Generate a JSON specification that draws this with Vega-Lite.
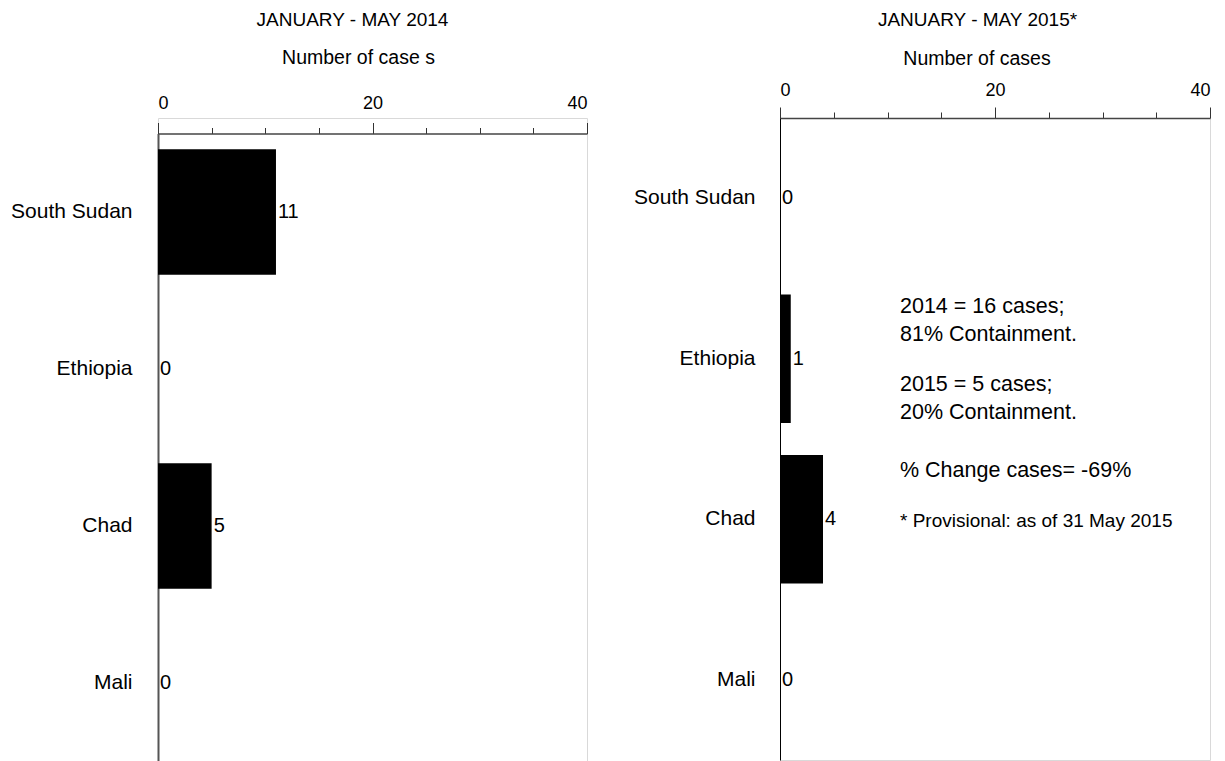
{
  "$schema": "https://vega.github.io/schema/vega-lite/v6.json",
  "datasets": {
    "y2014": [
      {"country": "South Sudan", "cases": 11},
      {"country": "Ethiopia", "cases": 0},
      {"country": "Chad", "cases": 5},
      {"country": "Mali", "cases": 0}
    ],
    "y2015": [
      {"country": "South Sudan", "cases": 0},
      {"country": "Ethiopia", "cases": 1},
      {"country": "Chad", "cases": 4},
      {"country": "Mali", "cases": 0}
    ],
    "notesA": [{"note": "2014 = 16 cases;\n81% Containment.", "country": "Ethiopia"}],
    "notesB": [{"note": "2015 = 5 cases;\n20% Containment.", "country": "Ethiopia"}],
    "notesC": [{"note": "% Change cases= -69%", "country": "Chad"}],
    "notesD": [{"note": "* Provisional: as of 31 May 2015", "country": "Chad"}]
  },
  "padding": {"left": 10, "top": 10, "right": 5, "bottom": 0},
  "background": "#ffffff",
  "config": {
    "font": "Liberation Sans",
    "view": {"stroke": "#d9d9d9", "strokeWidth": 1},
    "axis": {"labelColor": "#000000", "titleColor": "#000000", "labelFont": "Liberation Sans", "titleFont": "Liberation Sans", "grid": false, "titleFontWeight": "normal"},
    "title": {"fontWeight": "normal", "fontSize": 19, "color": "#000000", "font": "Liberation Sans"},
    "text": {"font": "Liberation Sans", "color": "#000000"}
  },
  "spacing": 45,
  "align": "none",
  "hconcat": [
    {
      "width": 429,
      "height": 643.5,
      "title": {"text": "JANUARY - MAY 2014", "dx": -20, "offset": 18},
      "data": {"name": "y2014"},
      "encoding": {
        "y": {
          "field": "country", "type": "nominal",
          "sort": ["South Sudan", "Ethiopia", "Chad", "Mali"],
          "scale": {"paddingInner": 0.2, "paddingOuter": 0.1, "range": [15.5, 643.5]},
          "axis": {"title": null, "ticks": false, "labelFontSize": 21, "labelPadding": 26, "domainColor": "#555555", "domainWidth": 2}
        },
        "x": {
          "field": "cases", "type": "quantitative",
          "scale": {"domain": [0, 40], "nice": false},
          "axis": {
            "orient": "top", "title": "Number of case s", "offset": -15.5,
            "values": [0, 5, 10, 15, 20, 25, 30, 35, 40],
            "labelExpr": "datum.value % 20 === 0 ? datum.label : ''",
            "labelFontSize": 18, "labelBaseline": "alphabetic", "labelPadding": 14,
            "tickSize": {"condition": {"test": "datum.value % 20 === 0", "value": 11}, "value": 6},
            "tickColor": "#333333", "domainColor": "#444444", "domainWidth": 1.5,
            "titleFontSize": 19.5, "titleX": 200, "titleY": -70, "titleBaseline": "alphabetic", "titleAlign": "center"
          }
        }
      },
      "layer": [
        {"mark": {"type": "bar", "color": "#000000"}},
        {"mark": {"type": "text", "align": "left", "dx": 2, "fontSize": 20, "baseline": "middle"}, "encoding": {"text": {"field": "cases", "type": "quantitative"}}}
      ]
    },
    {
      "width": 430,
      "height": 642,
      "title": {"text": "JANUARY - MAY 2015*", "dx": -17.5, "offset": 18},
      "encoding": {
        "y": {
          "field": "country", "type": "nominal",
          "sort": ["South Sudan", "Ethiopia", "Chad", "Mali"],
          "scale": {"paddingInner": 0.2, "paddingOuter": 0.1},
          "axis": {"title": null, "ticks": false, "labelFontSize": 21, "labelPadding": 25, "domainColor": "#000000", "domainWidth": 1}
        },
        "x": {
          "field": "cases", "type": "quantitative",
          "scale": {"domain": [0, 40], "nice": false},
          "axis": {
            "orient": "top", "title": "Number of cases",
            "values": [0, 5, 10, 15, 20, 25, 30, 35, 40],
            "labelExpr": "datum.value % 20 === 0 ? datum.label : ''",
            "labelFontSize": 18, "labelBaseline": "alphabetic", "labelPadding": 12,
            "tickSize": {"condition": {"test": "datum.value % 20 === 0", "value": 11}, "value": 6},
            "tickColor": "#333333", "domainColor": "#444444", "domainWidth": 1.5,
            "titleFontSize": 19.5, "titleX": 196.5, "titleY": -54, "titleBaseline": "alphabetic", "titleAlign": "center"
          }
        }
      },
      "layer": [
        {"data": {"name": "y2015"}, "mark": {"type": "bar", "color": "#000000"}},
        {"data": {"name": "y2015"}, "mark": {"type": "text", "align": "left", "dx": 2, "fontSize": 20, "baseline": "middle"}, "encoding": {"text": {"field": "cases", "type": "quantitative"}}},
        {"data": {"name": "notesA"}, "mark": {"type": "text", "align": "left", "baseline": "alphabetic", "fontSize": 21.5, "lineHeight": 28.3, "lineBreak": "\n", "dx": 120, "dy": -46}, "encoding": {"x": {"value": 0}, "y": {"field": "country", "type": "nominal"}, "text": {"field": "note", "type": "nominal"}}},
        {"data": {"name": "notesB"}, "mark": {"type": "text", "align": "left", "baseline": "alphabetic", "fontSize": 21.5, "lineHeight": 28.3, "lineBreak": "\n", "dx": 120, "dy": 32}, "encoding": {"x": {"value": 0}, "y": {"field": "country", "type": "nominal"}, "text": {"field": "note", "type": "nominal"}}},
        {"data": {"name": "notesC"}, "mark": {"type": "text", "align": "left", "baseline": "alphabetic", "fontSize": 21.5, "dx": 120, "dy": -42}, "encoding": {"x": {"value": 0}, "y": {"field": "country", "type": "nominal"}, "text": {"field": "note", "type": "nominal"}}},
        {"data": {"name": "notesD"}, "mark": {"type": "text", "align": "left", "baseline": "alphabetic", "fontSize": 19, "dx": 120, "dy": 8}, "encoding": {"x": {"value": 0}, "y": {"field": "country", "type": "nominal"}, "text": {"field": "note", "type": "nominal"}}}
      ]
    }
  ]
}
